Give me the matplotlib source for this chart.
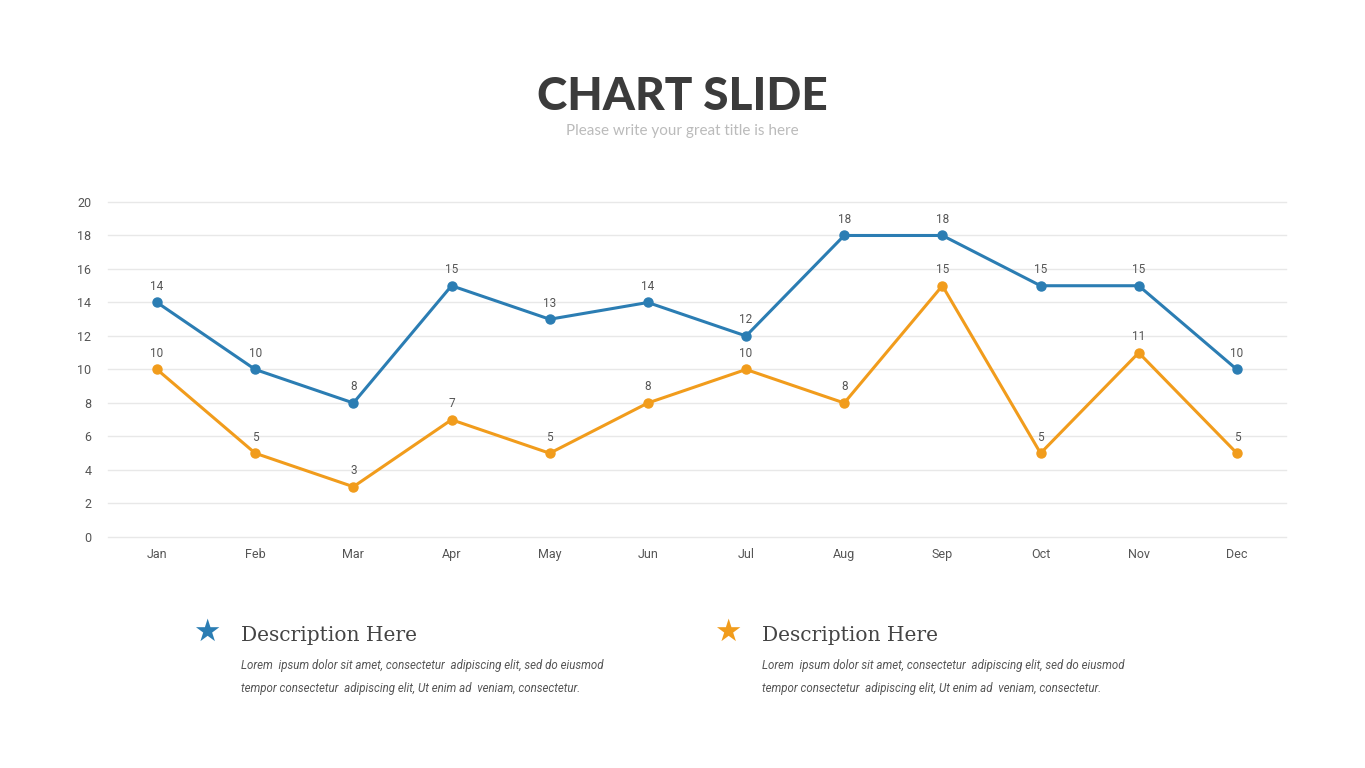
import matplotlib.pyplot as plt
import numpy as np

months = ["Jan", "Feb", "Mar", "Apr", "May", "Jun", "Jul", "Aug", "Sep", "Oct", "Nov", "Dec"]
series_a = [14, 10, 8, 15, 13, 14, 12, 18, 18, 15, 15, 10]
series_b = [10, 5, 3, 7, 5, 8, 10, 8, 15, 5, 11, 5]
y_ticks = [0, 2, 4, 6, 8, 10, 12, 14, 16, 18, 20]

blue = "#2b7db3"
orange = "#f19c1c"
txt = "#555555"

fig = plt.figure(figsize=(13.65, 7.68), dpi=100)
fig.patch.set_facecolor("white")

ax = fig.add_axes([0.0791, 0.3008, 0.863, 0.4362])
x = np.arange(len(months))
for vals, col in [(series_a, blue), (series_b, orange)]:
    ax.plot(x, vals, color=col, lw=2.2, marker="o", ms=6.5, zorder=3)
    for xi, v in zip(x, vals):
        ax.annotate(str(v), (xi, v), xytext=(0, 7), textcoords="offset points",
                    ha="center", va="bottom", fontsize=8.5, color=txt, family="Roboto")

ax.set_xlim(-0.5, 11.5)
ax.set_ylim(0, 20)
ax.set_yticks(y_ticks)
ax.set_xticks(x)
ax.set_xticklabels(months)
ax.grid(axis="y", color="#e8e8e8", lw=1, clip_on=False)
ax.set_axisbelow(True)
for s in ax.spines.values():
    s.set_visible(False)
ax.tick_params(axis="x", length=0, labelsize=9, labelcolor=txt, pad=8)
ax.tick_params(axis="y", length=0, labelsize=9, labelcolor=txt, pad=12)
for lab in ax.get_xticklabels() + ax.get_yticklabels():
    lab.set_family("Roboto")

# titles
fig.text(0.5, 1 - 110 / 768, "CHART SLIDE", ha="center", va="baseline", fontsize=33,
         fontweight="black", color="#3b3b3b", family="Lato")
fig.text(0.5, 1 - 135 / 768, "Please write your great title is here", ha="center", va="baseline",
         fontsize=11, color="#bbbbbb", family="Lato")

# descriptions
lorem1 = "Lorem  ipsum dolor sit amet, consectetur  adipiscing elit, sed do eiusmod"
lorem2 = "tempor consectetur  adipiscing elit, Ut enim ad  veniam, consectetur."
for sx, tx, col in [(207, 241, blue), (728, 762, orange)]:
    fig.text(sx / 1365, 1 - 632 / 768, "\u2605", ha="center", va="center",
             fontsize=22, color=col, family="DejaVu Sans")
    fig.text(tx / 1365, 1 - 641 / 768, "Description Here", ha="left", va="baseline",
             fontsize=14.5, color="#444444", family="DejaVu Serif")
    fig.text(tx / 1365, 1 - 669 / 768, lorem1, ha="left", va="baseline",
             fontsize=8.3, color=txt, family="Roboto", style="italic")
    fig.text(tx / 1365, 1 - 692 / 768, lorem2, ha="left", va="baseline",
             fontsize=8.3, color=txt, family="Roboto", style="italic")

fig.savefig("out.png", dpi=100)
